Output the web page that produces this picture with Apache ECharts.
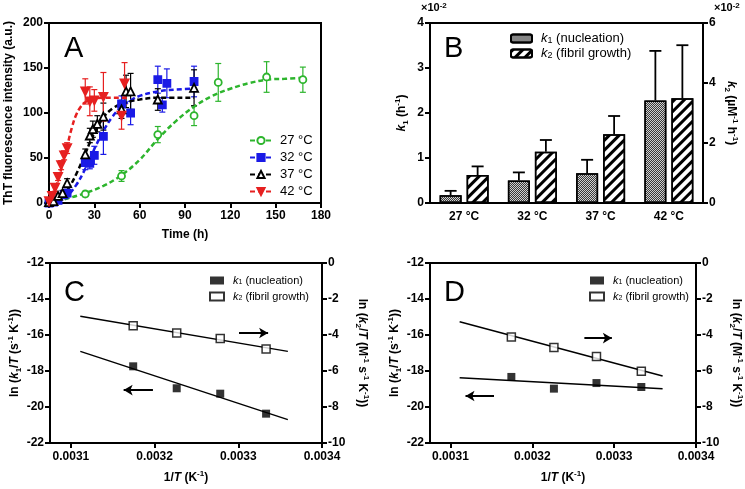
<!DOCTYPE html>
<html><head><meta charset="utf-8">
<script src="https://cdn.jsdelivr.net/npm/echarts@6/dist/echarts.min.js"></script>
<style>html,body{margin:0;padding:0;background:#fff}#c{width:745px;height:489px}</style>
</head><body><div id="c"></div>
<script>
const FONT = 'Liberation Sans, Arial, Helvetica, sans-serif';

// ---------- Panel A data ----------
const tempLabels = ['27 °C', '32 °C', '37 °C', '42 °C'];
const t27 = [0, 24, 48, 72, 96, 112, 144, 168];
const v27 = [1, 10, 30, 76, 97, 134, 140, 137];
const e27 = [1, 3, 6, 9, 11, 21, 17, 14];
const fitT27 = [0, 12, 24, 36, 48, 60, 72, 84, 96, 108, 120, 132, 144, 156, 168];
const fitV27 = [0, 5, 11, 19, 31, 48, 71, 91, 107, 119, 127, 133, 137, 138, 139];

const t32 = [0, 3, 6, 10, 12, 24, 27, 30, 36, 48, 54, 72, 75, 78, 96];
const v32 = [0, 1, 3, 9, 11, 45, 44, 53, 74, 110, 100, 137, 109, 133, 135];
const e32 = [1, 1, 2, 3, 4, 8, 6, 10, 20, 9, 13, 15, 8, 16, 17];
const fitT32 = [0, 6, 12, 18, 24, 30, 36, 42, 48, 54, 60, 72, 84, 96];
const fitV32 = [0, 2, 8, 20, 38, 60, 80, 96, 107, 114, 119, 124, 126, 127];

const t37 = [0, 3, 6, 9, 12, 24, 27, 29, 32, 36, 48, 51, 54, 72, 96];
const v37 = [1, 2, 8, 11, 22, 54, 75, 82, 88, 96, 104, 124, 124, 115, 128];
const e37 = [1, 1, 2, 3, 5, 6, 8, 9, 9, 15, 10, 18, 20, 12, 20];
const fitT37 = [0, 6, 12, 18, 24, 27, 30, 36, 42, 48, 54, 60, 72, 96];
const fitV37 = [0, 3, 14, 32, 55, 67, 78, 95, 105, 110, 113, 115, 117, 117];

const t42 = [0, 2, 4, 6, 8, 10, 12, 24, 27, 30, 36, 48, 50];
const v42 = [2, 8, 17, 29, 42, 53, 61, 124, 113, 114, 118, 97, 133];
const e42 = [2, 3, 4, 4, 5, 5, 6, 14, 16, 12, 27, 15, 23];
const fitT42 = [0, 3, 6, 9, 12, 15, 18, 21, 24, 30, 36, 52];
const fitV42 = [2, 10, 25, 44, 63, 83, 98, 107, 112, 116, 117, 117];

// ---------- Panel B data (x10^-2) ----------
const bCats = ['27 °C', '32 °C', '37 °C', '42 °C'];
const k1 = [0.17, 0.50, 0.66, 2.28];
const k1err = [0.10, 0.18, 0.30, 1.10];
const k2 = [0.93, 1.71, 2.29, 3.49];
const k2err = [0.29, 0.39, 0.61, 1.77];

// ---------- Panels C & D data ----------
const invT = [0.0031744, 0.0032264, 0.0032784, 0.0033332];
const fitX = [0.0031112, 0.0033592];
const cK1 = [-17.74, -18.96, -19.26, -20.37];
const cK2 = [-3.48, -3.89, -4.19, -4.78];
const cFitK1 = [-16.91, -20.70];
const cFitK2 = [-2.96, -4.91];
const dK1 = [-18.33, -18.98, -18.67, -18.89];
const dK2 = [-4.11, -4.70, -5.20, -6.02];
const dFitK1 = [-18.37, -18.98];
const dFitK2 = [-3.26, -6.28];
const xTicksCD = [0.0031, 0.0032, 0.0033, 0.0034];

const zip = (a, b) => a.map((x, i) => [x, b[i]]);

const axLine = {show: true, onZero: false, lineStyle: {color: '#000', width: 2}};
const axTick = {show: true, inside: false, length: 5, lineStyle: {color: '#000', width: 2}};
const axLbl = {color: '#000', fontWeight: 'bold', fontSize: 12, fontFamily: FONT};
const rich = {
  i: {fontStyle: 'italic', fontWeight: 'bold', fontSize: 12, fontFamily: FONT, color: '#000'},
  b: {fontWeight: 'bold', fontSize: 12, fontFamily: FONT, color: '#000'},
  sub: {fontWeight: 'bold', fontSize: 8, fontFamily: FONT, color: '#000', verticalAlign: 'bottom'},
  sup: {fontWeight: 'bold', fontSize: 8, fontFamily: FONT, color: '#000', verticalAlign: 'top'}
};
const nameStyle = {color: '#000', fontWeight: 'bold', fontSize: 12, fontFamily: FONT, lineHeight: 16, rich};

function errSeries(color, xs, vs, es, xi, yi, capW) {
  return {
    type: 'custom', xAxisIndex: xi, yAxisIndex: yi, z: 1, silent: true,
    data: xs.map((x, i) => [x, vs[i] - es[i], vs[i] + es[i]]),
    renderItem: (p, api) => {
      const x = api.value(0);
      const a = api.coord([x, api.value(1)]), b = api.coord([x, api.value(2)]);
      const c = capW / 2, st = {stroke: color, lineWidth: 1.2};
      return {type: 'group', children: [
        {type: 'line', shape: {x1: a[0], y1: a[1], x2: b[0], y2: b[1]}, style: st},
        {type: 'line', shape: {x1: a[0] - c, y1: a[1], x2: a[0] + c, y2: a[1]}, style: st},
        {type: 'line', shape: {x1: b[0] - c, y1: b[1], x2: b[0] + c, y2: b[1]}, style: st}
      ]};
    }
  };
}

const aSpecs = [
  {name: tempLabels[0], color: '#2db52d', t: t27, v: v27, e: e27, ft: fitT27, fv: fitV27, symbol: 'circle', size: 7, fill: '#fff', rot: 0},
  {name: tempLabels[1], color: '#1a1ae6', t: t32, v: v32, e: e32, ft: fitT32, fv: fitV32, symbol: 'rect', size: 7, fill: '#1a1ae6', rot: 0},
  {name: tempLabels[2], color: '#000000', t: t37, v: v37, e: e37, ft: fitT37, fv: fitV37, symbol: 'triangle', size: 8, fill: '#fff', rot: 0},
  {name: tempLabels[3], color: '#e62020', t: t42, v: v42, e: e42, ft: fitT42, fv: fitV42, symbol: 'triangle', size: 8, fill: '#e62020', rot: 180}
];

const series = [];
aSpecs.forEach(s => {
  series.push({
    name: s.name, type: 'line', xAxisIndex: 0, yAxisIndex: 0, smooth: 0.4, showSymbol: false,
    symbol: s.symbol, symbolSize: s.size - 1, symbolRotate: s.rot,
    itemStyle: {color: s.fill, borderColor: s.color, borderWidth: 1.8},
    lineStyle: {color: s.color, width: 2.5, type: [5, 3]},
    data: zip(s.ft, s.fv), z: 2, silent: true
  });
});
aSpecs.forEach(s => {
  series.push(errSeries(s.color, s.t, s.v, s.e, 0, 0, 6));
});
aSpecs.forEach(s => {
  series.push({
    type: 'scatter', xAxisIndex: 0, yAxisIndex: 0, symbol: s.symbol, symbolSize: s.size, symbolRotate: s.rot,
    itemStyle: {color: s.fill, borderColor: s.color, borderWidth: 1.8, opacity: 1}, data: zip(s.t, s.v), z: 3
  });
});

// Panel B
const BAR_W = 22, BAR_GAP = 5;
const k1Decal = {symbol: 'rect', symbolSize: 1, dashArrayX: [[1, 1], [0, 1, 1, 0]], dashArrayY: [1, 0], color: '#3a3a3a'};
const k2Decal = {symbol: 'rect', symbolSize: 1, dashArrayX: [1, 0], dashArrayY: [3, 4], rotation: -Math.PI / 4, color: '#000'};
series.push({
  name: 'Bk1', type: 'bar', xAxisIndex: 1, yAxisIndex: 1, barWidth: BAR_W, barGap: (BAR_GAP / BAR_W * 100) + '%',
  itemStyle: {color: '#d0d0d0', borderColor: '#000', borderWidth: 1.5, decal: k1Decal}, data: k1, z: 2
});
series.push({
  name: 'Bk2', type: 'bar', xAxisIndex: 1, yAxisIndex: 2, barWidth: BAR_W,
  itemStyle: {color: '#fff', borderColor: '#000', borderWidth: 1.5, decal: k2Decal}, data: k2, z: 2
});
function barErr(vals, errs, yi, off) {
  return {
    type: 'custom', xAxisIndex: 1, yAxisIndex: yi, z: 1, silent: true,
    data: vals.map((v, i) => [i, v, v + errs[i]]),
    renderItem: (p, api) => {
      const a = api.coord([api.value(0), api.value(1)]), b = api.coord([api.value(0), api.value(2)]);
      const x = a[0] + off, st = {stroke: '#000', lineWidth: 1.8};
      return {type: 'group', children: [
        {type: 'line', shape: {x1: x, y1: a[1], x2: x, y2: b[1]}, style: st},
        {type: 'line', shape: {x1: x - 6, y1: b[1], x2: x + 6, y2: b[1]}, style: st}
      ]};
    }
  };
}
series.push(barErr(k1, k1err, 1, -(BAR_W + BAR_GAP) / 2));
series.push(barErr(k2, k2err, 2, (BAR_W + BAR_GAP) / 2));

// Panels C & D
function cdSeries(prefix, xi, yl, yr, K1, K2, F1, F2, arrR, arrL) {
  const out = [];
  out.push({type: 'line', xAxisIndex: xi, yAxisIndex: yl, data: zip(fitX, F1), showSymbol: false, silent: true,
    lineStyle: {color: '#000', width: 1.5}, z: 1,
    markLine: {silent: true, symbol: ['none', 'arrow'], symbolSize: [8, 9], lineStyle: {color: '#000', width: 2, type: 'solid'},
      label: {show: false}, data: [[{coord: [arrL[0], arrL[2]]}, {coord: [arrL[1], arrL[2]]}]]}});
  out.push({type: 'line', xAxisIndex: xi, yAxisIndex: yr, data: zip(fitX, F2), showSymbol: false, silent: true,
    lineStyle: {color: '#000', width: 1.5}, z: 1,
    markLine: {silent: true, symbol: ['none', 'arrow'], symbolSize: [8, 9], lineStyle: {color: '#000', width: 2, type: 'solid'},
      label: {show: false}, data: [[{coord: [arrR[0], arrR[2]]}, {coord: [arrR[1], arrR[2]]}]]}});
  out.push({name: prefix + 'k1', type: 'scatter', xAxisIndex: xi, yAxisIndex: yl, symbol: 'rect', symbolSize: 8,
    itemStyle: {color: '#000'}, data: zip(invT, K1), z: 3});
  out.push({name: prefix + 'k2', type: 'scatter', xAxisIndex: xi, yAxisIndex: yr, symbol: 'rect', symbolSize: 8,
    itemStyle: {color: '#fff', borderColor: '#000', borderWidth: 1.5}, data: zip(invT, K2), z: 3});
  return out;
}
series.push(...cdSeries('C', 2, 3, 4, cK1, cK2, cFitK1, cFitK2, [0.0033008, 0.0033356, -3.89], [0.003198, 0.003163, -19.06]));
series.push(...cdSeries('D', 3, 5, 6, dK1, dK2, dFitK1, dFitK2, [0.0032636, 0.0032972, -4.17], [0.0031532, 0.0031184, -19.39]));

const legendText = {
  Bk1: '{i|k}{s|1} (nucleation)', Bk2: '{i|k}{s|2} (fibril growth)',
  Ck1: '{i|k}{s|1} (nucleation)', Ck2: '{i|k}{s|2} (fibril growth)',
  Dk1: '{i|k}{s|1} (nucleation)', Dk2: '{i|k}{s|2} (fibril growth)'
};
function legRich(fs) {
  return {
    i: {fontStyle: 'italic', fontSize: fs, fontFamily: FONT, color: '#000'},
    s: {fontSize: fs - 4, fontFamily: FONT, color: '#000', verticalAlign: 'bottom'}
  };
}

const cdX = (gi) => ({
  gridIndex: gi, type: 'value', min: 0.003075, max: 0.0034,
  axisLine: axLine, splitLine: {show: false},
  axisTick: Object.assign({}, axTick, {customValues: xTicksCD}),
  axisLabel: Object.assign({}, axLbl, {margin: 8, customValues: xTicksCD, formatter: v => v.toFixed(4)}),
  name: '1/{i|T} (K{sup|-1})', nameLocation: 'middle', nameGap: 27, nameTextStyle: nameStyle
});
const cdYL = (gi) => ({
  gridIndex: gi, type: 'value', min: -22, max: -12, interval: 2, position: 'left',
  axisLine: axLine, axisTick: axTick, axisLabel: Object.assign({}, axLbl, {margin: 6}), splitLine: {show: false},
  name: 'ln ({i|k}{sub|1}/{i|T} (s{sup|-1} K{sup|-1}))', nameLocation: 'middle', nameRotate: 90, nameGap: 27, nameTextStyle: nameStyle
});
const cdYR = (gi) => ({
  gridIndex: gi, type: 'value', min: -10, max: 0, interval: 2, position: 'right',
  axisLine: axLine, axisTick: axTick, axisLabel: Object.assign({}, axLbl, {margin: 6}), splitLine: {show: false},
  name: 'ln ({i|k}{sub|2}/{i|T} (M{sup|-1} s{sup|-1} K{sup|-1}))', nameLocation: 'middle', nameRotate: -90, nameGap: 32, nameTextStyle: nameStyle
});

const gridBase = {show: true, borderColor: '#000', borderWidth: 2, backgroundColor: 'transparent', containLabel: false};
const letter = (t, l, tp) => ({text: t, left: l, top: tp, textStyle: {fontSize: 29, fontWeight: 'normal', fontFamily: FONT, color: '#000'}});

const option = {
  animation: false,
  backgroundColor: '#fff',
  textStyle: {fontFamily: FONT},
  title: [letter('A', 59, 29), letter('B', 439, 29), letter('C', 59, 273), letter('D', 439, 273)],
  grid: [
    Object.assign({left: 49, top: 23, width: 272, height: 180}, gridBase),
    Object.assign({left: 430, top: 23, width: 273, height: 180}, gridBase),
    Object.assign({left: 50, top: 263, width: 272, height: 180}, gridBase),
    Object.assign({left: 430, top: 263, width: 272, height: 180}, gridBase)
  ],
  xAxis: [
    {gridIndex: 0, type: 'value', min: 0, max: 180, interval: 30, axisLine: axLine, axisTick: axTick,
      axisLabel: Object.assign({}, axLbl, {margin: 7}), splitLine: {show: false},
      name: 'Time (h)', nameLocation: 'middle', nameGap: 24, nameTextStyle: nameStyle},
    {gridIndex: 1, type: 'category', data: bCats, axisLine: axLine, axisTick: {show: false},
      axisLabel: Object.assign({}, axLbl, {margin: 8}), splitLine: {show: false}},
    cdX(2), cdX(3)
  ],
  yAxis: [
    {gridIndex: 0, type: 'value', min: 0, max: 200, interval: 50, axisLine: axLine, axisTick: axTick,
      axisLabel: Object.assign({}, axLbl, {margin: 6}), splitLine: {show: false},
      name: 'ThT fluorescence intensity (a.u.)', nameLocation: 'middle', nameRotate: 90, nameGap: 32, nameTextStyle: nameStyle},
    {gridIndex: 1, type: 'value', min: 0, max: 4, interval: 1, position: 'left', axisLine: axLine, axisTick: axTick,
      axisLabel: Object.assign({}, axLbl, {margin: 6}), splitLine: {show: false},
      name: '{i|k}{sub|1} (h{sup|-1})', nameLocation: 'middle', nameRotate: 90, nameGap: 20, nameTextStyle: nameStyle},
    {gridIndex: 1, type: 'value', min: 0, max: 6, interval: 2, position: 'right', axisLine: axLine, axisTick: axTick,
      axisLabel: Object.assign({}, axLbl, {margin: 6}), splitLine: {show: false},
      name: '{i|k}{sub|2} (µM{sup|-1} h{sup|-1})', nameLocation: 'middle', nameRotate: -90, nameGap: 20, nameTextStyle: nameStyle},
    cdYL(2), cdYR(2), cdYL(3), cdYR(3)
  ],
  legend: [
    {data: tempLabels, orient: 'vertical', left: 244, top: 129, itemWidth: 22, itemHeight: 9, itemGap: 4,
      selectedMode: false, textStyle: {fontSize: 13, fontFamily: FONT, color: '#000', padding: [0, 0, 0, 3]}},
    {data: ['Bk1', 'Bk2'], orient: 'vertical', left: 505, top: 27, itemWidth: 21, itemHeight: 8, itemGap: 2,
      selectedMode: false, formatter: n => legendText[n],
      textStyle: {fontSize: 13, fontFamily: FONT, color: '#000', padding: [0, 0, 0, 4], rich: legRich(13)}},
    {data: ['Ck1', 'Ck2'], orient: 'vertical', left: 204, top: 270, itemWidth: 14, itemHeight: 8, itemGap: 5,
      selectedMode: false, formatter: n => legendText[n],
      textStyle: {fontSize: 11, fontFamily: FONT, color: '#000', padding: [0, 0, 0, 4], rich: legRich(11)}},
    {data: ['Dk1', 'Dk2'], orient: 'vertical', left: 584, top: 270, itemWidth: 14, itemHeight: 8, itemGap: 5,
      selectedMode: false, formatter: n => legendText[n],
      textStyle: {fontSize: 11, fontFamily: FONT, color: '#000', padding: [0, 0, 0, 4], rich: legRich(11)}}
  ],
  graphic: [
    {type: 'text', left: 421, top: 2, style: {text: '×10{s|-2}', font: 'bold 11px ' + FONT, fill: '#000',
      rich: {s: {font: 'bold 8px ' + FONT, fill: '#000', verticalAlign: 'top'}}}},
    {type: 'text', left: 714, top: 2, style: {text: '×10{s|-2}', font: 'bold 11px ' + FONT, fill: '#000',
      rich: {s: {font: 'bold 8px ' + FONT, fill: '#000', verticalAlign: 'top'}}}}
  ],
  series
};
const chart = echarts.init(document.getElementById('c'), null, {renderer: 'canvas'});
chart.setOption(option);
</script></body></html>
